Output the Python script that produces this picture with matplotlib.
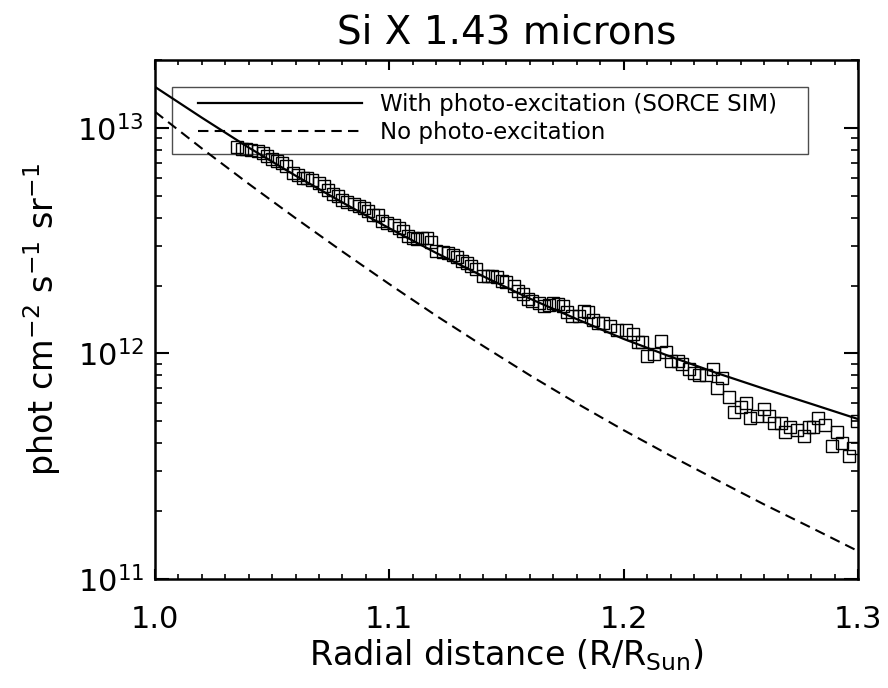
import numpy as np
import matplotlib.pyplot as plt
from matplotlib.patches import Rectangle
from matplotlib.ticker import MultipleLocator, LogLocator, FormatStrFormatter

plt.rcParams['font.family'] = 'DejaVu Sans'
plt.rcParams['mathtext.default'] = 'regular'

# model curves
r_model = [1.00, 1.02, 1.04, 1.06, 1.08, 1.10, 1.12, 1.14,
           1.16, 1.18, 1.20, 1.22, 1.24, 1.26, 1.28, 1.30]
with_pe = [1.52e13, 1.11e13, 8.18e12, 6.14e12, 4.67e12, 3.59e12, 2.79e12, 2.20e12,
           1.75e12, 1.42e12, 1.16e12, 9.68e11, 8.17e11, 6.97e11, 5.98e11, 5.12e11]
no_pe = [1.18e13, 8.11e12, 5.65e12, 3.98e12, 2.83e12, 2.03e12, 1.47e12, 1.08e12,
         8.00e11, 6.01e11, 4.57e11, 3.52e11, 2.74e11, 2.14e11, 1.69e11, 1.33e11]

# observed intensities (squares)
r_obs = [1.035, 1.037, 1.039, 1.041, 1.044, 1.046, 1.048, 1.050, 1.052, 1.054,
         1.056, 1.059, 1.061, 1.063, 1.065, 1.067, 1.070, 1.072, 1.074, 1.076,
         1.078, 1.080, 1.082, 1.085, 1.087, 1.089, 1.091, 1.093, 1.095, 1.097,
         1.099, 1.102, 1.104, 1.106,
         1.108, 1.110, 1.112, 1.114, 1.116, 1.118, 1.120, 1.123, 1.125, 1.127,
         1.129, 1.131, 1.133, 1.135, 1.137, 1.140, 1.142, 1.144, 1.146, 1.148,
         1.150, 1.153, 1.155, 1.157, 1.159, 1.161, 1.164, 1.166, 1.168, 1.170,
         1.172, 1.174, 1.176, 1.178, 1.181, 1.183, 1.185, 1.187, 1.189,
         1.191, 1.194, 1.197, 1.201, 1.204, 1.206, 1.208, 1.210, 1.213, 1.216,
         1.218, 1.220, 1.223, 1.225, 1.228, 1.230, 1.232, 1.235, 1.238, 1.240,
         1.242, 1.245, 1.247, 1.250, 1.252, 1.254, 1.257, 1.260, 1.262, 1.264,
         1.267, 1.269, 1.271, 1.274, 1.277, 1.279, 1.281, 1.283, 1.286, 1.289,
         1.291, 1.293, 1.296, 1.298, 1.2995]
obs = [8.2e12, 8.1e12, 8.1e12, 8.0e12, 7.9e12, 7.7e12, 7.5e12, 7.3e12, 7.1e12, 7.0e12,
       6.8e12, 6.3e12, 6.2e12, 6.0e12, 6.0e12, 5.9e12, 5.7e12, 5.5e12, 5.3e12, 5.1e12,
       5.0e12, 4.8e12, 4.7e12, 4.6e12, 4.5e12, 4.4e12, 4.3e12, 4.1e12, 4.1e12, 3.85e12,
       3.8e12, 3.7e12, 3.6e12, 3.5e12,
       3.33e12, 3.26e12, 3.23e12, 3.26e12, 3.26e12, 3.13e12, 2.85e12, 2.82e12, 2.79e12, 2.74e12,
       2.68e12, 2.58e12, 2.52e12, 2.44e12, 2.37e12, 2.21e12, 2.21e12, 2.21e12, 2.18e12, 2.10e12,
       2.07e12, 1.99e12, 1.89e12, 1.83e12, 1.74e12, 1.71e12, 1.67e12, 1.62e12, 1.64e12, 1.67e12,
       1.66e12, 1.62e12, 1.52e12, 1.46e12, 1.46e12, 1.54e12, 1.52e12, 1.40e12, 1.37e12,
       1.37e12, 1.32e12, 1.27e12, 1.27e12, 1.22e12, 1.12e12, 1.12e12, 9.7e11, 9.9e11, 1.14e12,
       1.01e12, 9.3e11, 9.3e11, 9.0e11, 8.5e11, 8.2e11, 8.0e11, 8.0e11, 8.5e11, 7.0e11,
       7.8e11, 6.4e11, 5.5e11, 5.8e11, 6.0e11, 5.2e11, 5.3e11, 5.7e11, 5.3e11, 4.9e11,
       4.9e11, 4.5e11, 4.7e11, 4.6e11, 4.3e11, 4.7e11, 4.7e11, 5.2e11, 4.8e11, 3.9e11,
       4.5e11, 4.0e11, 3.5e11, 3.8e11, 5.0e11]

fig = plt.figure(figsize=(8.88, 6.88), dpi=100)
ax = fig.add_axes([0.1745, 0.1584, 0.7917, 0.7544])

ax.plot(r_model, with_pe, color='k', lw=1.6, label='With photo-excitation (SORCE SIM)')
ax.plot(r_model, no_pe, color='k', lw=1.5, dashes=(5, 3), label='No photo-excitation')
ax.plot(r_obs, obs, 's', mfc='none', mec='k', ms=8, mew=1.0)

ax.set_yscale('log')
ax.set_xlim(1.0, 1.3)
ax.set_ylim(1e11, 2e13)

ax.xaxis.set_major_locator(MultipleLocator(0.1))
ax.xaxis.set_minor_locator(MultipleLocator(0.01))
ax.xaxis.set_major_formatter(FormatStrFormatter('%.1f'))
ax.yaxis.set_major_locator(LogLocator(base=10))
ax.yaxis.set_minor_locator(LogLocator(base=10, subs=np.arange(2, 10)))

ax.tick_params(which='both', direction='in', top=True, right=True, labelsize=22)
ax.tick_params(axis='x', which='major', length=7.5, width=1.5, pad=19)
ax.tick_params(axis='x', which='minor', length=3.6, width=1.2)
ax.tick_params(axis='y', which='major', length=10, width=1.5, pad=8)
ax.tick_params(axis='y', which='minor', length=5, width=1.2)
for s in ax.spines.values():
    s.set_linewidth(1.8)

ax.set_title('Si X 1.43 microns', fontsize=28, pad=12)
ax.set_xlabel('Radial distance (R/R$_{Sun}$)', fontsize=24)
ax.xaxis.set_label_coords(0.5, -0.112)
ax.set_ylabel('phot cm$^{-2}$ s$^{-1}$ sr$^{-1}$', fontsize=24, labelpad=10)

ax.add_patch(Rectangle((0.0242, 0.8189), 0.9047, 0.1291, transform=ax.transAxes,
                       fill=False, edgecolor='0.3', lw=1.0))
ax.legend(loc='upper left', bbox_to_anchor=(0.0612, 0.9365), frameon=False,
          borderpad=0, borderaxespad=0, fontsize=16.5, handlelength=7.16,
          handletextpad=0.79, labelspacing=0.2)

fig.savefig('out.png', dpi=100)
